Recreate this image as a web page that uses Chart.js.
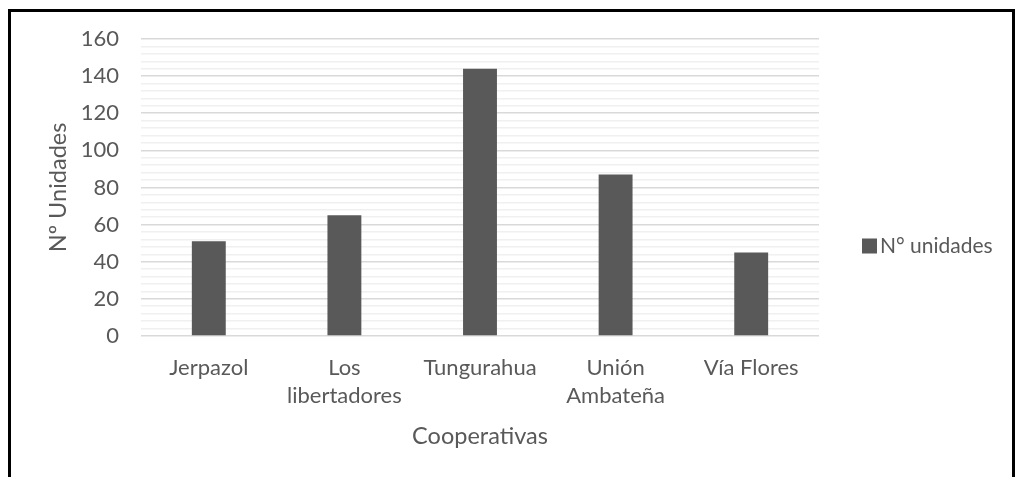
<!doctype html>
<html lang="es">
  <head>
    <meta charset="utf-8">
    <title>Cooperativas - N° unidades</title>
    <script src="https://cdn.jsdelivr.net/npm/chart.js"></script>
    <style>
      body { margin: 0; background: #fff; overflow: hidden; }
      .marco {
        position: absolute; left: 8px; top: 9px;
        width: 1001px; height: 480px;
        border: 3px solid #000; background: #fff;
      }
    </style>
  </head>
  <body>
    <div class="marco">
      <canvas id="unidades" width="1001" height="466"></canvas>
    </div>

    <script>
    // datos
    const cooperativas = [['Jerpazol'], ['Los', 'libertadores'], ['Tungurahua'], ['Unión', 'Ambateña'], ['Vía Flores']];
    const unidades = [51, 65, 144, 87, 45];
    const serie = 'N° unidades';
    const tituloX = 'Cooperativas';
    const tituloY = 'Nº Unidades';

    const gris = '#595959';
    const familia = 'Lato, "Open Sans", sans-serif';

    // leyenda a la derecha, como en Excel (cuadro pegado al texto)
    const leyenda = {
      id: 'leyenda',
      afterDraw(chart) {
        const c = chart.ctx;
        const ds = chart.data.datasets[0];
        const x = chart.chartArea.right + 43;
        const y = chart.height / 2 + 1;
        c.save();
        c.fillStyle = ds.backgroundColor;
        c.fillRect(x, y - 7.5, 15, 15);
        c.fillStyle = gris;
        c.font = '21px ' + familia;
        c.textBaseline = 'middle';
        c.fillText(ds.label, x + 18, y);
        c.restore();
      }
    };

    const ctx = document.getElementById('unidades');

    let chart = new Chart(ctx, {
      type: 'bar',
      data: {
        labels: cooperativas,
        datasets: [{
          label: serie,
          data: unidades,
          backgroundColor: gris,
          borderWidth: 0,
          barPercentage: 0.25,
          categoryPercentage: 1
        }]
      },
      plugins: [leyenda],
      options: {
        responsive: false,
        animation: false,
        layout: { padding: { left: 29, right: 193, top: 27, bottom: 23 } },
        plugins: {
          tooltip: { enabled: false },
          legend: { display: false }
        },
        scales: {
          x: {
            grid: { display: false },
            border: { display: false },
            ticks: { color: gris, font: { family: familia, size: 22, lineHeight: 1.27 }, padding: 10, maxRotation: 0 },
            title: { display: true, text: tituloX, color: gris, font: { family: familia, size: 23.5 }, padding: { top: 3 } }
          },
          y: {
            min: 0,
            max: 160,
            border: { display: false },
            afterFit: (s) => { s.width = 101; s.paddingTop = 0; s.paddingBottom = 0; },
            grid: {
              drawTicks: false,
              color: (c) => (c.tick && c.tick.value % 20 === 0) ? '#d9d9d9' : '#f0f0f0',
              lineWidth: 1.5
            },
            ticks: {
              stepSize: 4,
              autoSkip: false,
              color: gris,
              font: { family: familia, size: 22 },
              padding: 22,
              callback: (v) => v % 20 === 0 ? v : ''
            },
            title: { display: true, text: tituloY, color: gris, font: { family: familia, size: 23.5 }, padding: { bottom: 0 } }
          }
        }
      }
    });
    </script>
  </body>
</html>
